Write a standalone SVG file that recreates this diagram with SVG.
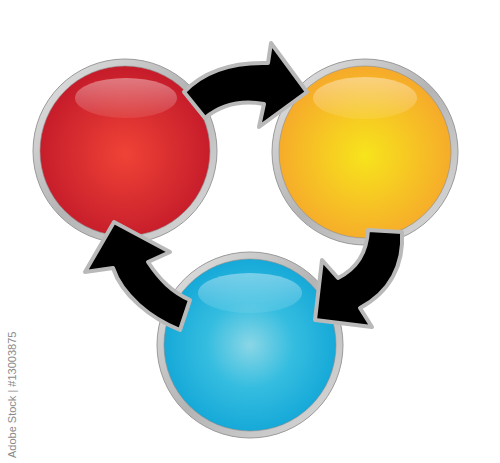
<svg xmlns="http://www.w3.org/2000/svg" width="500" height="463" viewBox="0 0 500 463">
<defs>
<linearGradient id="rim" x1="0" y1="0" x2="1" y2="1">
<stop offset="0" stop-color="#e6e6e6"/><stop offset="0.5" stop-color="#b4b4b4"/><stop offset="1" stop-color="#dcdcdc"/>
</linearGradient>
<radialGradient id="gRed" cx="0.5" cy="0.52" r="0.5">
<stop offset="0" stop-color="#ef4336"/><stop offset="1" stop-color="#c71d2b"/>
</radialGradient>
<radialGradient id="gOrange" cx="0.5" cy="0.52" r="0.5">
<stop offset="0" stop-color="#f7e41c"/><stop offset="1" stop-color="#f6ac2a"/>
</radialGradient>
<radialGradient id="gBlue" cx="0.5" cy="0.5" r="0.5">
<stop offset="0" stop-color="#8ad6e6"/><stop offset="0.5" stop-color="#35bde0"/><stop offset="1" stop-color="#16a9d8"/>
</radialGradient>
<linearGradient id="hl" x1="0" y1="0" x2="0" y2="1">
<stop offset="0" stop-color="#fff" stop-opacity="0.4"/><stop offset="1" stop-color="#fff" stop-opacity="0.08"/>
</linearGradient>
<style>
.rim{fill:url(#rim);stroke:#9a9a9a;stroke-width:1}
.core{stroke:#8c8c8c;stroke-width:0.6}
.hl{fill:url(#hl)}
.arrow{fill:#000;stroke:#b9b9b9;stroke-width:4;stroke-linejoin:round}
.wm{font-family:"Liberation Sans",Arial,sans-serif;font-size:11px;fill:#8a8a8a}
</style>
</defs>
<rect width="500" height="463" fill="#fff"/>
<g id="node-red">
<circle class="rim" cx="125" cy="151" r="92"/>
<circle class="core" cx="125" cy="151" r="85" fill="url(#gRed)"/>
<ellipse class="hl" cx="126" cy="98" rx="51" ry="20"/>
</g>
<g id="node-orange">
<circle class="rim" cx="365" cy="152" r="93"/>
<circle class="core" cx="365" cy="152" r="86" fill="url(#gOrange)"/>
<ellipse class="hl" cx="365" cy="98" rx="52" ry="21"/>
</g>
<g id="node-blue">
<circle class="rim" cx="250" cy="345" r="93"/>
<circle class="core" cx="250" cy="345" r="86" fill="url(#gBlue)"/>
<ellipse class="hl" cx="250" cy="293" rx="52" ry="20"/>
</g>
<g id="connectors">
<path class="arrow" d="M184,92 C205,70 235,62 268,63 L271,43 L307,92 L259,127 L264,104 C242,100 222,104 205,118 Z"/>
<path class="arrow" d="M368,230 L402,232 C404,265 390,292 360,308 L372,327 L315,320 L322,260 L338,278 C358,268 367,250 368,230 Z"/>
<path class="arrow" d="M114,222 L170,252 L148,262 C160,280 172,292 190,300 L180,330 C150,318 122,295 113,268 L85,272 Z"/>
</g>
<text class="wm" transform="translate(16,458) rotate(-90)">Adobe Stock | #13003875</text>
</svg>
